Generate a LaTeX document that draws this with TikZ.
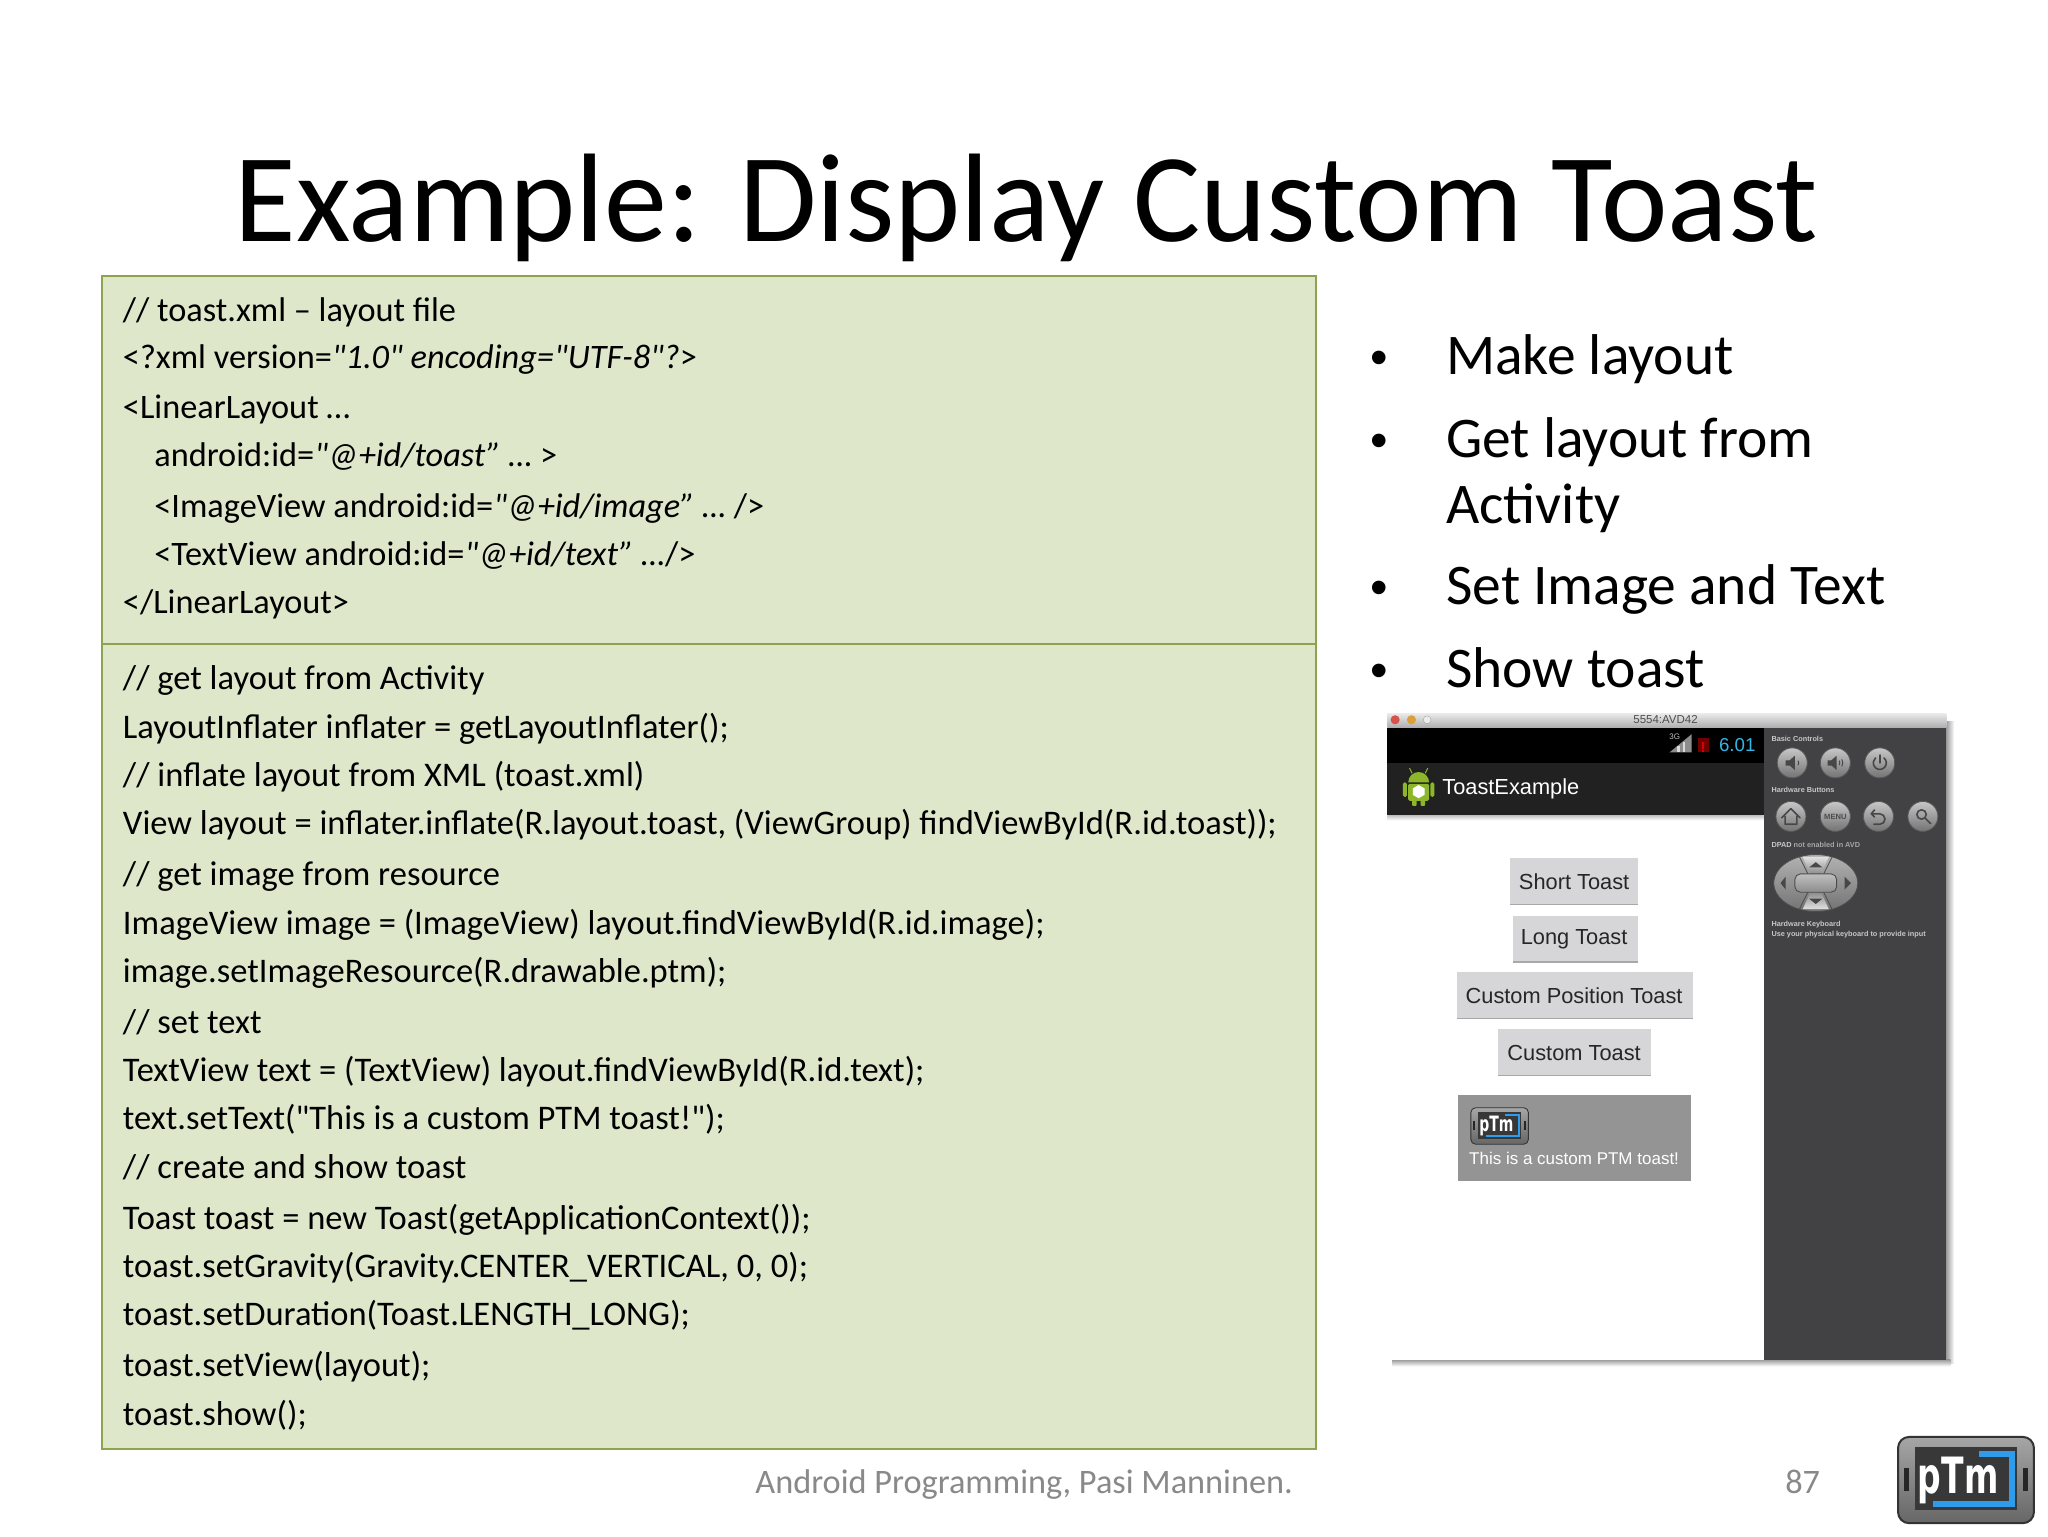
\documentclass[tikz,border=0pt]{standalone}
\usepackage{fontspec}
\setmainfont{Carlito}[Ligatures=TeXOff]
\newfontfamily\uifont{Liberation Sans}
\newfontfamily\logofont{DejaVu Sans}
\usetikzlibrary{shapes.geometric}
\definecolor{boxfill}{HTML}{DFE7CB}
\definecolor{boxline}{HTML}{8EA34E}
\definecolor{panel}{HTML}{424244}
\definecolor{btnfill}{HTML}{D6D6D8}
\definecolor{btnedge}{HTML}{A8A8A8}
\definecolor{toastbg}{HTML}{949494}
\definecolor{footgray}{HTML}{898989}
\definecolor{holo}{HTML}{33B5E5}
\definecolor{ptmblue}{HTML}{2F9BEA}
\definecolor{droid}{HTML}{8DB62B}
\definecolor{lightred}{HTML}{D8524C}
\definecolor{lightyellow}{HTML}{D9A13A}
\tikzset{
  x=1.3063pt,y=-1.3063pt,
  codeline/.style={anchor=base west,inner sep=0pt,font=\fontsize{34.5}{41}\selectfont},
  xmlline/.style={anchor=base west,inner sep=0pt,font=\fontsize{34.3}{41}\selectfont},
  bullettext/.style={anchor=base west,inner sep=0pt,font=\fontsize{57.5}{68}\selectfont},
  bulletdot/.style={anchor=base,inner sep=0pt,font=\uifont\fontsize{50}{60}\selectfont},
  foot/.style={inner sep=0pt,text=footgray,font=\fontsize{34.3}{40}\selectfont},
  btntext/.style={inner sep=0pt,anchor=center,font=\uifont\fontsize{21.8}{24}\selectfont,text=black!85},
  panellabel/.style={anchor=base west,inner sep=0pt,text=black!22,font=\uifont\bfseries\fontsize{7.3}{8}\selectfont},
  roundkey/.style={circle,minimum size=30pt,inner sep=0pt,draw=black!65,line width=0.8pt,top color=black!22,bottom color=black!55},
  keyglyph/.style={draw=black!72,line width=1.6pt,fill=none,line cap=round,line join=round},
  keysolid/.style={fill=black!72,draw=none},
  pics/ptmlogo/.style={code={
    \draw[black!80,line width=#1*2pt,top color=black!35,bottom color=black!60,rounded corners=#1*11pt] (0,0) rectangle (104,66);
    \fill[black!78] (13,8) rectangle (91,56);
    \fill[black!85] (4.5,24) rectangle (8,41);
    \fill[black!85] (96,24) rectangle (99.5,41);
    \draw[ptmblue,line width=#1*6pt] (62,13) -- (87,13) -- (87,51) -- (27,51);
    \node[transform shape,xscale=0.66,inner sep=0pt,text=white,anchor=base,font=\logofont\bfseries\fontsize{50}{50}\selectfont] at (46,43) {pTm};
  }}
}
\begin{document}
\begin{tikzpicture}
\useasboundingbox (0,0) rectangle (1567.79,1175.84);
\fill[white] (0,0) rectangle (1567.79,1175.84);
% title
\node[inner sep=0pt,anchor=base,font=\fontsize{126}{130}\selectfont] (title) at (786,184.5) {Example: Display Custom Toast};
% code boxes
\draw[boxline,fill=boxfill,line width=2pt] (78,211) rectangle (1007.5,493);
\draw[boxline,fill=boxfill,line width=2pt] (78,493) rectangle (1007.5,1109);
\node[xmlline] (c1) at (94,246) {// toast.xml – layout file};
\node[xmlline] (c2) at (94,282) {<?xml version=\textit{"1.0" encoding="UTF-8"?}>};
\node[xmlline] (c3) at (94,320) {<LinearLayout …};
\node[xmlline] (c4) at (118,357) {android:id=\textit{"@+id/toast” …} >};
\node[xmlline] (c5) at (118,396) {<ImageView android:id=\textit{"@+id/image” …} />};
\node[xmlline] (c6) at (118,433) {<TextView android:id=\textit{"@+id/text” …}/>};
\node[xmlline] (c7) at (94,470) {</LinearLayout>};
\node[codeline] (d1) at (94,528) {// get layout from Activity};
\node[codeline] (d2) at (94,565) {LayoutInflater inflater = getLayoutInflater();};
\node[codeline] (d3) at (94,602) {// inflate layout from XML (toast.xml)};
\node[codeline] (d4) at (94,639) {View layout = inflater.inflate(R.layout.toast, (ViewGroup) findViewById(R.id.toast));};
\node[codeline] (d5) at (94,678) {// get image from resource};
\node[codeline] (d6) at (94,715) {ImageView image = (ImageView) layout.findViewById(R.id.image);};
\node[codeline] (d7) at (94,752) {image.setImageResource(R.drawable.ptm);};
\node[codeline] (d8) at (94,791) {// set text};
\node[codeline] (d9) at (94,828) {TextView text = (TextView) layout.findViewById(R.id.text);};
\node[codeline] (d10) at (94,865) {text.setText("This is a custom PTM toast!");};
\node[codeline] (d11) at (94,902) {// create and show toast};
\node[codeline] (d12) at (94,941) {Toast toast = new Toast(getApplicationContext());};
\node[codeline] (d13) at (94,978) {toast.setGravity(Gravity.CENTER\_VERTICAL, 0, 0);};
\node[codeline] (d14) at (94,1015) {toast.setDuration(Toast.LENGTH\_LONG);};
\node[codeline] (d15) at (94,1054) {toast.setView(layout);};
\node[codeline] (d16) at (94,1091) {toast.show();};
% bullets
\node[bulletdot] (b1) at (1056,287) {•};
\node[bullettext] (t1) at (1107,287) {Make layout};
\node[bulletdot] (b2) at (1056,350) {•};
\node[bullettext] (t2) at (1107,350) {Get layout from};
\node[bullettext] (t2b) at (1107,401) {Activity};
\node[bulletdot] (b3) at (1056,463) {•};
\node[bullettext] (t3) at (1107,463) {Set Image and Text};
\node[bulletdot] (b4) at (1056,526) {•};
\node[bullettext] (t4) at (1107,526) {Show toast};
% emulator window shadow
\shade[left color=black!38,right color=white] (1490,552) rectangle (1496,1044);
\shade[top color=black!38,bottom color=white] (1066,1041) rectangle (1493,1046);
% emulator
\fill[white] (1062,557) rectangle (1350,1041);
\shade[top color=black!8,bottom color=black!32] (1062,546) rectangle (1490,557);
\fill[black] (1062,557) rectangle (1350,584);
\fill[black!87] (1062,584) rectangle (1350,624);
\shade[top color=black!25,bottom color=white] (1062,624) rectangle (1350,628);
\fill[panel] (1350,557) rectangle (1490,1041);
% traffic lights
\fill[lightred] (1068,551) circle (3.5);
\fill[lightyellow] (1080.5,551) circle (3.5);
\draw[black!35,fill=black!8] (1092.5,551) circle (3);
\node[inner sep=0pt,text=black!70,font=\uifont\fontsize{11.5}{13}\selectfont] (wt) at (1275,551) {5554:AVD42};
% status bar
\node[inner sep=0pt,text=black!25,font=\uifont\fontsize{8}{9}\selectfont] (net) at (1282,564) {3G};
\fill[black!45] (1278,576) -- (1295,576) -- (1295,562) -- cycle;
\fill[black!15] (1284,576) rectangle (1286,571);
\fill[black!15] (1288,576) rectangle (1290,568);
\fill[black!55!red] (1300,565) rectangle (1308,576);
\fill[red!85!black] (1303.2,568) rectangle (1304.8,573);
\fill[red!85!black] (1303.2,574) rectangle (1304.8,575.3);
\node[anchor=base east,inner sep=0pt,text=holo,font=\uifont\fontsize{18.7}{22}\selectfont] (clock) at (1344,575) {6.01};
% action bar
\fill[droid] (1078,599) arc (180:360:8) -- cycle;
\draw[droid,line width=1pt] (1081,592) -- (1079,588) (1091,592) -- (1093,588);
\fill[droid,rounded corners=1.5pt] (1078,600) rectangle (1094,613);
\fill[droid,rounded corners=1.5pt] (1074,599) rectangle (1077,610);
\fill[droid,rounded corners=1.5pt] (1095,599) rectangle (1098,610);
\fill[droid,rounded corners=1pt] (1081,612) rectangle (1084.5,617);
\fill[droid,rounded corners=1pt] (1087.5,612) rectangle (1091,617);
\fill[white] (1086,601) -- (1090.5,603.5) -- (1090.5,608.5) -- (1086,611) -- (1081.5,608.5) -- (1081.5,603.5) -- cycle;
\node[anchor=base west,inner sep=0pt,text=white,font=\uifont\fontsize{21.8}{24}\selectfont] (app) at (1104,608.5) {ToastExample};
% buttons
\fill[btnfill] (1156,657) rectangle (1254,693);
\fill[btnedge] (1156,692) rectangle (1254,693);
\node[btntext] (bs) at (1205,675) {Short Toast};
\fill[btnfill] (1158,701) rectangle (1254,737);
\fill[btnedge] (1158,736) rectangle (1254,737);
\node[btntext] (bl) at (1205,719) {Long Toast};
\fill[btnfill] (1115,744) rectangle (1296,780);
\fill[btnedge] (1115,779) rectangle (1296,780);
\node[btntext] (bc) at (1205,762) {Custom Position Toast};
\fill[btnfill] (1147,788) rectangle (1264,824);
\fill[btnedge] (1147,823) rectangle (1264,824);
\node[btntext] (bt) at (1205,806) {Custom Toast};
% toast
\fill[toastbg] (1116,838) rectangle (1294.5,904);
\pic[scale=0.423] at (1126,848) {ptmlogo=0.423};
\node[inner sep=0pt,text=white,font=\uifont\fontsize{17}{20}\selectfont] (toasttext) at (1205,887) {This is a custom PTM toast!};
% panel
\node[panellabel] (p1) at (1356,568) {Basic Controls};
\node[panellabel] (p2) at (1356,607) {Hardware Buttons};
\node[panellabel] (p3) at (1356,649) {DPAD \textcolor{black!35}{not enabled in AVD}};
\node[panellabel] (p4) at (1356,709) {Hardware Keyboard};
\node[panellabel] (p5) at (1356,717) {Use your physical keyboard to provide input};
% keys
\node[roundkey] (k1) at (1372,584) {};
\node[roundkey] (k2) at (1405,584) {};
\node[roundkey] (k3) at (1439,584) {};
\node[roundkey] (k4) at (1371,625) {};
\node[roundkey] (k5) at (1405,625) {};
\node[roundkey] (k6) at (1438,625) {};
\node[roundkey] (k7) at (1472,625) {};
\fill[keysolid] (1367,582) -- (1370,582) -- (1374,578.5) -- (1374,589.5) -- (1370,586) -- (1367,586) -- cycle;
\draw[keyglyph,line width=1pt] (1376.5,582.5) arc (-30:30:3);
\fill[keysolid] (1399,582) -- (1402,582) -- (1406,578.5) -- (1406,589.5) -- (1402,586) -- (1399,586) -- cycle;
\draw[keyglyph,line width=1pt] (1408,582.5) arc (-30:30:3) (1410,581.5) arc (-30:30:5);
\draw[keyglyph] (1442.2,580.2) arc (-50:230:5);
\draw[keyglyph] (1439,578) -- (1439,584);
\draw[keyglyph] (1364,626) -- (1371,619) -- (1378,626) (1366.5,625) -- (1366.5,631) -- (1375.5,631) -- (1375.5,625);
\node[inner sep=0pt,text=black!70,font=\uifont\bfseries\fontsize{7.6}{8}\selectfont] (menu) at (1405,625) {MENU};
\draw[keyglyph] (1435,620) -- (1432.5,623) -- (1435,625.5) (1433,623) -- (1439,623) arc (-90:90:4) -- (1434.5,631);
\draw[keyglyph] (1471,623.5) circle (3.6) (1473.8,626.3) -- (1478,630.5);
% dpad
\node[ellipse,minimum width=84pt,minimum height=57pt,inner sep=0pt,draw=black!70,line width=0.8pt,top color=black!30,bottom color=black!55] (pad) at (1390,676) {};
\shade[top color=black!12,bottom color=black!45] (1380,656) -- (1400,656) -- (1394,669) -- (1386,669) -- cycle;
\shade[top color=black!45,bottom color=black!12] (1380,696) -- (1400,696) -- (1394,683) -- (1386,683) -- cycle;
\draw[black!70,line width=0.8pt] (1377,655) -- (1384,669) (1403,655) -- (1396,669) (1377,697) -- (1384,683) (1403,697) -- (1396,683);
\draw[black!70,line width=0.9pt,top color=black!25,bottom color=black!45,rounded corners=5.5pt] (1374,669) rectangle (1406,683);
\fill[black!72] (1390,660) -- (1395,664) -- (1385,664) -- cycle;
\fill[black!72] (1390,692) -- (1395,688) -- (1385,688) -- cycle;
\fill[black!72] (1363,676) -- (1367,671) -- (1367,681) -- cycle;
\fill[black!72] (1417,676) -- (1412,671) -- (1412,681) -- cycle;
% footer
\node[foot,anchor=base] (f1) at (784,1143) {Android Programming, Pasi Manninen.};
\node[foot,anchor=base] (f2) at (1380,1143) {87};
\pic at (1453,1100) {ptmlogo=1};
\end{tikzpicture}
\end{document}
